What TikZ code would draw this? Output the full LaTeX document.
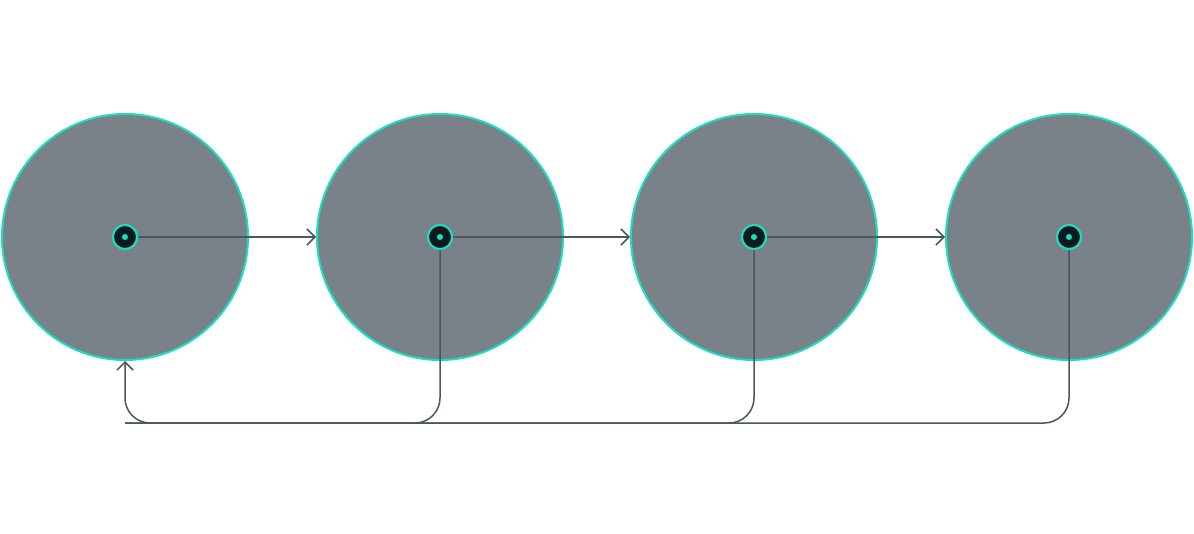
\documentclass[tikz,border=0pt]{standalone}
\usetikzlibrary{arrows.meta}
\begin{document}
\begin{tikzpicture}[x=1pt,y=-1pt,
 big/.style={circle,draw=teal1,fill=gray1,line width=2pt,minimum size=246pt,inner sep=0pt},
 hub/.style={circle,draw=teal1,fill=dark1,line width=2pt,minimum size=24pt,inner sep=0pt},
 dot/.style={circle,fill=teal1,minimum size=6pt,inner sep=0pt},
 ln/.style={draw=line1,line width=1.5pt},
 arr/.style={ln,-{Straight Barb[length=8pt,width=16pt,line width=1.5pt]}}]
\definecolor{teal1}{HTML}{1DDDC0}
\definecolor{gray1}{HTML}{788288}
\definecolor{dark1}{HTML}{0D1A1E}
\definecolor{line1}{HTML}{4A5660}
\useasboundingbox (0,0) rectangle (1194,534);
\foreach \i/\x in {1/125,2/440,3/754,4/1069}{
 \node[big] (c\i) at (\x,237) {};
}
\foreach \i/\x in {1/125,2/440,3/754,4/1069}{
 \node[hub] (h\i) at (\x,237) {};
}
\coordinate (b) at (125,423);
\draw[ln,rounded corners=25pt] (h4.south) |- (b);
\draw[ln,rounded corners=25pt] (h3.south) |- (b);
\draw[arr,rounded corners=25pt] (h2.south) |- (b) -- (c1.south);
\draw[arr] (h1.east) -- (c2.west);
\draw[arr] (h2.east) -- (c3.west);
\draw[arr] (h3.east) -- (c4.west);
\foreach \i in {1,2,3,4}{
 \node[hub] (hh\i) at (h\i) {};
 \node[dot] (d\i) at (h\i) {};
}
\end{tikzpicture}
\end{document}
